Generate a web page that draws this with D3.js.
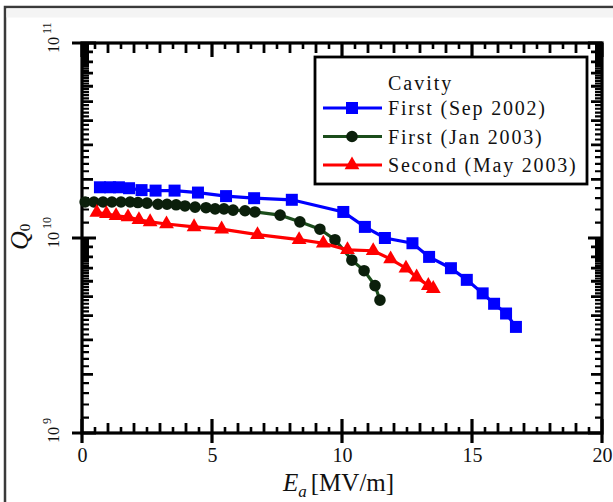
<!DOCTYPE html>
<html>
<head>
<meta charset="utf-8">
<script src="https://cdn.jsdelivr.net/npm/d3@7"></script>
<style>
  html, body { margin: 0; padding: 0; background: #fff; }
  svg { display: block; }
  text { font-family: "Liberation Serif", "Times New Roman", serif; fill: #111; }
</style>
</head>
<body>
<svg id="chart" width="613" height="502"></svg>
<script>
// Accelerating gradient E_a [MV/m] vs. quality factor Q0 for each test
const seriesNames = ["First (Sep 2002)", "First (Jan 2003)", "Second (May 2003)"];
const legendTitle = "Cavity";

const sep2002E = [0.69, 1.08, 1.42, 1.81, 2.29, 2.83, 3.56, 4.46, 5.54, 6.62, 8.07, 10.05, 10.88, 11.65, 12.71, 13.35, 14.19, 14.8, 15.41, 15.85, 16.31, 16.69];
const sep2002Q = [1.82e10, 1.82e10, 1.82e10, 1.80e10, 1.76e10, 1.75e10, 1.75e10, 1.71e10, 1.64e10, 1.60e10, 1.57e10, 1.36e10, 1.14e10, 1.00e10, 9.4e9, 8.0e9, 7.0e9, 6.1e9, 5.2e9, 4.6e9, 4.1e9, 3.5e9];

const jan2003E = [0.12, 0.46, 0.81, 1.15, 1.5, 1.85, 2.15, 2.5, 2.92, 3.27, 3.62, 3.96, 4.35, 4.77, 5.12, 5.46, 5.81, 6.27, 6.65, 7.62, 8.38, 9.15, 9.73, 10.38, 10.85, 11.27, 11.46];
const jan2003Q = [1.53e10, 1.53e10, 1.53e10, 1.53e10, 1.53e10, 1.53e10, 1.52e10, 1.51e10, 1.49e10, 1.49e10, 1.48e10, 1.46e10, 1.44e10, 1.43e10, 1.41e10, 1.41e10, 1.39e10, 1.38e10, 1.36e10, 1.31e10, 1.21e10, 1.11e10, 9.8e9, 7.7e9, 6.8e9, 5.7e9, 4.8e9];

const may2003E = [0.57, 0.94, 1.31, 1.77, 2.19, 2.62, 3.25, 4.31, 5.37, 6.75, 8.35, 9.28, 10.21, 11.2, 11.87, 12.46, 12.87, 13.32, 13.51];
const may2003Q = [1.35e10, 1.33e10, 1.30e10, 1.28e10, 1.24e10, 1.21e10, 1.18e10, 1.14e10, 1.11e10, 1.04e10, 9.8e9, 9.4e9, 8.7e9, 8.6e9, 7.8e9, 7.0e9, 6.3e9, 5.7e9, 5.5e9];

const xTickValues = [0, 5, 10, 15, 20];
const xTickLabels = ["0", "5", "10", "15", "20"];
const yTickExponents = [9, 10, 11];

const svg = d3.select("#chart");

// outer frame
svg.append("rect").attr("x", 5).attr("y", 7).attr("width", 640).attr("height", 540)
  .attr("fill", "#fff").attr("stroke", "#3a3a3a").attr("stroke-width", 2.5);
svg.append("rect").attr("x", 6.5).attr("y", 8.5).attr("width", 620).attr("height", 9)
  .attr("fill", "#f4f4f4");

const plotLeft = 82, plotRight = 602, plotTop = 43, plotBottom = 433;
const x = d3.scaleLinear().domain([0, 20]).range([plotLeft, plotRight]);
const y = d3.scaleLog().domain([1e9, 1e11]).range([plotBottom, plotTop]);

// tick sets along each axis
const xMajor = xTickValues;
const xMid = d3.range(0, 21, 1).filter(v => v % 5 !== 0);
const xMinor = d3.range(0.5, 20, 1);
const yMajor = yTickExponents.map(e => Math.pow(10, e));
const yMid = [], yMinor = [];
[1e9, 1e10].forEach(dec => {
  for (let k = 2; k <= 9; k++) yMid.push(k * dec);
  for (let k = 12; k < 100; k += 2) if (k % 10 !== 0) yMinor.push(k / 10 * dec);
});

// tick marks placed with the scales, one path per tick class
function tickPath(side, values, inward, outward, w) {
  const p = d3.path();
  values.forEach(v => {
    if (side === "bottom") { p.moveTo(x(v), plotBottom + outward); p.lineTo(x(v), plotBottom - inward); }
    else if (side === "top") { p.moveTo(x(v), plotTop - outward); p.lineTo(x(v), plotTop + inward); }
    else if (side === "left") { p.moveTo(plotLeft - outward, y(v)); p.lineTo(plotLeft + inward, y(v)); }
    else { p.moveTo(plotRight + outward, y(v)); p.lineTo(plotRight - inward, y(v)); }
  });
  svg.append("path").attr("d", p.toString())
    .attr("fill", "none").attr("stroke", "#000").attr("stroke-width", w);
}

tickPath("bottom", xMajor, 14, 10, 3.2);
tickPath("bottom", xMid, 10, 0, 2.8);
tickPath("bottom", xMinor, 6, 0, 2.6);
tickPath("top", xMajor, 14, 0, 3.2);
tickPath("top", xMid, 10, 0, 2.8);
tickPath("top", xMinor, 6, 0, 2.6);
tickPath("left", yMajor, 14, 10, 3.2);
tickPath("left", yMid, 11, 0, 2.8);
tickPath("left", yMinor, 7, 0, 2.2);
tickPath("right", yMajor, 14, 0, 3.2);
tickPath("right", yMid, 11, 0, 2.8);
tickPath("right", yMinor, 7, 0, 2.2);

// bottom axis labels
const bottomAxis = svg.append("g").attr("transform", `translate(0,${plotBottom})`)
  .call(d3.axisBottom(x).tickValues(xMajor).tickSize(10).tickSizeOuter(0).tickPadding(5)
    .tickFormat((d, i) => xTickLabels[i]));
bottomAxis.select(".domain").remove();
bottomAxis.selectAll(".tick line").remove();
bottomAxis.selectAll("text").attr("font-size", 20).attr("fill", "#111")
  .attr("font-family", "Liberation Serif, Times New Roman, serif");

// plot frame
svg.append("rect").attr("x", plotLeft).attr("y", plotTop)
  .attr("width", plotRight - plotLeft).attr("height", plotBottom - plotTop)
  .attr("fill", "none").attr("stroke", "#000").attr("stroke-width", 3.2);

// rotated power-of-ten labels on the Q axis
yTickExponents.forEach(e => {
  const t = svg.append("text")
    .attr("transform", `translate(59,${y(Math.pow(10, e)) + 10}) rotate(-90)`)
    .attr("font-size", 16);
  t.append("tspan").text("10");
  t.append("tspan").attr("font-size", 12).attr("dx", 3).attr("dy", -8).text(String(e));
});

// axis titles
const yTitle = svg.append("text")
  .attr("transform", "translate(28,250) rotate(-90)")
  .attr("font-size", 26);
yTitle.append("tspan").attr("font-style", "italic").text("Q");
yTitle.append("tspan").attr("font-size", 15).attr("dy", 2).text("0");

const xTitle = svg.append("text").attr("x", 283).attr("y", 491).attr("font-size", 25);
xTitle.append("tspan").attr("font-style", "italic").text("E");
xTitle.append("tspan").attr("font-style", "italic").attr("font-size", 17).attr("dy", 6).text("a");
xTitle.append("tspan").attr("dy", -6).attr("dx", 4).text("[MV/m]");

// data series
const series = [
  { name: seriesNames[0], E: sep2002E, Q: sep2002Q, line: "#0000ff", fill: "#0000ff", symbol: d3.symbolSquare, size: 144 },
  { name: seriesNames[1], E: jan2003E, Q: jan2003Q, line: "#1b4d1b", fill: "#0b1f0b", symbol: d3.symbolCircle, size: 105 },
  { name: seriesNames[2], E: may2003E, Q: may2003Q, line: "#ff0000", fill: "#ff0000", symbol: d3.symbolTriangle, size: 95 }
];

const line = d3.line().x(d => x(d[0])).y(d => y(d[1]));

series.forEach(s => {
  const pts = s.E.map((e, i) => [e, s.Q[i]]);
  svg.append("path").datum(pts).attr("d", line)
    .attr("fill", "none").attr("stroke", s.line).attr("stroke-width", 3.2);
  svg.append("g").selectAll("path").data(pts).join("path")
    .attr("transform", d => `translate(${x(d[0])},${y(d[1])})`)
    .attr("d", d3.symbol().type(s.symbol).size(s.size))
    .attr("fill", s.fill);
});

// legend
const lg = svg.append("g");
lg.append("rect").attr("x", 315).attr("y", 57).attr("width", 272).attr("height", 127)
  .attr("fill", "#fff").attr("stroke", "#000").attr("stroke-width", 2.8);
lg.append("text").attr("x", 388).attr("y", 90).attr("font-size", 20)
  .attr("letter-spacing", 2).text(legendTitle);
series.forEach((s, i) => {
  const cy = 108 + i * 28.5;
  lg.append("line").attr("x1", 323).attr("x2", 382).attr("y1", cy).attr("y2", cy)
    .attr("stroke", s.line).attr("stroke-width", 3);
  lg.append("path").attr("transform", `translate(352,${cy})`)
    .attr("d", d3.symbol().type(s.symbol).size(s.size)).attr("fill", s.fill);
  lg.append("text").attr("x", 388).attr("y", cy + 7).attr("font-size", 20)
    .attr("letter-spacing", 1.8).text(s.name);
});
</script>
</body>
</html>
